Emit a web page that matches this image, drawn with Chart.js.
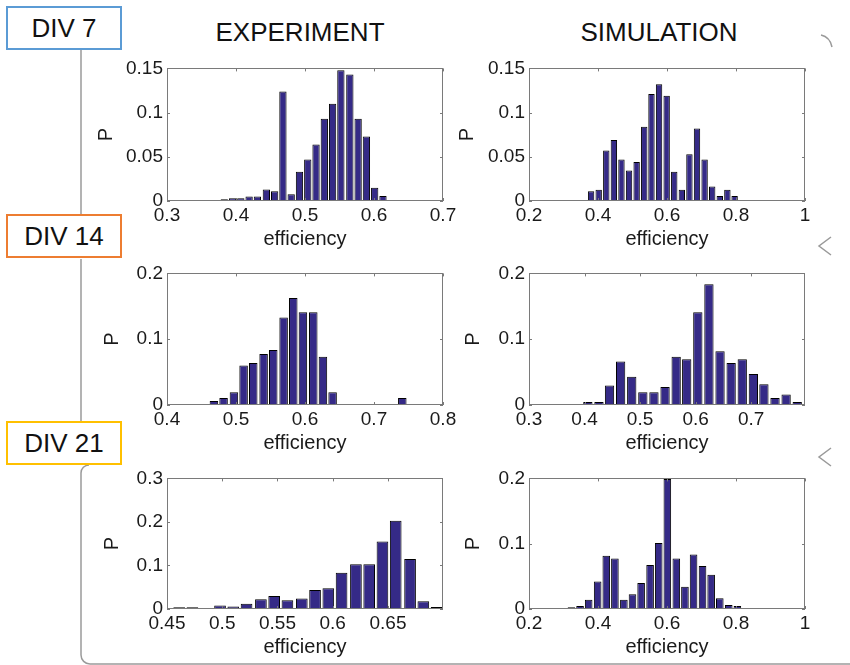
<!DOCTYPE html>
<html>
<head>
<meta charset="utf-8">
<script src="https://cdn.jsdelivr.net/npm/chart.js@4.4.1/dist/chart.umd.min.js"></script>
<style>
body { margin: 0; width: 850px; height: 665px; background: #fff; position: relative; overflow: hidden; font-family: "Liberation Sans", Arial, sans-serif; }
canvas { position: absolute; }
svg { position: absolute; left: 0; top: 0; }
.div-box { position: absolute; left: 6px; width: 112px; height: 40px; border: 2px solid; background: #fff; text-align: center; line-height: 40px; font-size: 26px; color: #111; }
.col-title { position: absolute; top: 17px; line-height: 30px; font-size: 26px; color: #111; transform: translateX(-50%); white-space: nowrap; }
</style>
</head>
<body>
<svg width="850" height="665">
  <g fill="none" stroke="#9a9a9a" stroke-width="1.5">
    <path d="M81 50 L81 214 M81 259 L81 421"/>
    <path d="M89 465 A8 8 0 0 0 81 473 L81 655 A9 9 0 0 0 90 664 L850 664"/>
    <path d="M821 35 Q830 37 832 47"/>
    <path d="M831 237 Q823 243 819 246 Q823 249 831 255"/>
    <path d="M831 448 Q823 454 819 457 Q823 460 831 466"/>
  </g>
</svg>

<div class="div-box" style="top:6px; border-color:#5b9bd5;">DIV 7</div>
<div class="div-box" style="top:214px; border-color:#ed7d31;">DIV 14</div>
<div class="div-box" style="top:421px; border-color:#ffc000;">DIV 21</div>

<div class="col-title" style="left:300px;">EXPERIMENT</div>
<div class="col-title" style="left:659px;">SIMULATION</div>

<canvas id="exp7" width="378" height="200" style="left:87px; top:53px;"></canvas>
<canvas id="sim7" width="378" height="200" style="left:449px; top:53px;"></canvas>
<canvas id="exp14" width="378" height="199" style="left:87px; top:258px;"></canvas>
<canvas id="sim14" width="378" height="199" style="left:449px; top:258px;"></canvas>
<canvas id="exp21" width="378" height="198" style="left:87px; top:463px;"></canvas>
<canvas id="sim21" width="378" height="198" style="left:449px; top:463px;"></canvas>

<script>
// bin centres (efficiency) and probabilities per histogram
// DIV 7
const expBins7 = [0.383, 0.395, 0.407, 0.419, 0.431, 0.444, 0.456, 0.468, 0.480, 0.492, 0.504, 0.516, 0.528, 0.540, 0.552, 0.565, 0.577, 0.589, 0.601, 0.613];
const expP7 = [0.002, 0.003, 0.003, 0.005, 0.005, 0.013, 0.011, 0.124, 0.0075, 0.033, 0.047, 0.064, 0.093, 0.110, 0.148, 0.143, 0.093, 0.073, 0.015, 0.0056];
const simBins7 = [0.380, 0.402, 0.424, 0.446, 0.468, 0.490, 0.512, 0.534, 0.555, 0.577, 0.599, 0.621, 0.643, 0.665, 0.687, 0.709, 0.731, 0.753, 0.775, 0.796];
const simP7 = [0.011, 0.0128, 0.057, 0.069, 0.047, 0.0346, 0.044, 0.084, 0.121, 0.132, 0.119, 0.033, 0.0128, 0.053, 0.082, 0.047, 0.0165, 0.0056, 0.0128, 0.0056];
// DIV 14
const expBins14 = [0.468, 0.482, 0.497, 0.511, 0.525, 0.540, 0.554, 0.569, 0.583, 0.597, 0.612, 0.626, 0.640, 0.655, 0.669, 0.683, 0.698, 0.712, 0.726, 0.741];
const expP14 = [0.006, 0.0105, 0.0195, 0.060, 0.064, 0.0775, 0.0835, 0.133, 0.1625, 0.141, 0.141, 0.0735, 0.0195, 0, 0, 0, 0, 0, 0, 0.0105];
const simBins14 = [0.406, 0.426, 0.445, 0.465, 0.485, 0.505, 0.525, 0.545, 0.565, 0.584, 0.604, 0.624, 0.644, 0.664, 0.684, 0.704, 0.723, 0.743, 0.763, 0.783];
const simP14 = [0.0045, 0.0045, 0.0295, 0.066, 0.043, 0.0195, 0.0195, 0.0275, 0.0735, 0.0695, 0.141, 0.1835, 0.0815, 0.064, 0.0695, 0.047, 0.0315, 0.0105, 0.016, 0.0045];
// DIV 21
const expBins21 = [0.461, 0.473, 0.486, 0.498, 0.510, 0.522, 0.535, 0.547, 0.559, 0.572, 0.584, 0.596, 0.608, 0.621, 0.633, 0.645, 0.657, 0.670, 0.682, 0.694];
const expP21 = [0.004, 0.004, 0, 0.0083, 0.006, 0.012, 0.0226, 0.030, 0.0203, 0.024, 0.0436, 0.0474, 0.0835, 0.103, 0.103, 0.155, 0.203, 0.115, 0.018, 0.0045];
const simBins21 = [0.323, 0.348, 0.373, 0.399, 0.424, 0.449, 0.475, 0.500, 0.525, 0.551, 0.576, 0.601, 0.627, 0.652, 0.677, 0.703, 0.728, 0.753, 0.779, 0.804];
const simP21 = [0.0025, 0.0045, 0.014, 0.042, 0.0815, 0.0775, 0.014, 0.0225, 0.040, 0.0675, 0.101, 0.199, 0.0775, 0.034, 0.0835, 0.066, 0.0525, 0.0165, 0.006, 0.0045];

// axis ticks
const xTicksA = [0.3, 0.4, 0.5, 0.6, 0.7];
const xTicksB = [0.2, 0.4, 0.6, 0.8, 1];
const xTicksC = [0.4, 0.5, 0.6, 0.7, 0.8];
const xTicksD = [0.45, 0.5, 0.55, 0.6, 0.65];
const yTicks15 = [0, 0.05, 0.1, 0.15];
const yTicks2 = [0, 0.1, 0.2];
const yTicks3 = [0, 0.1, 0.2, 0.3];

const FONT = '"Liberation Sans", Arial, sans-serif';
const TEXT = '#1a1a1a';

// box around the plot area with small inward ticks on all four sides
const boxTicks = {
    id: 'boxTicks',
    afterDraw(chart) {
        const ctx = chart.ctx;
        const a = chart.chartArea;
        const x = chart.scales.x, y = chart.scales.y;
        ctx.save();
        ctx.strokeStyle = '#7a7a7a';
        ctx.lineWidth = 1;
        ctx.beginPath();
        for (const t of x.ticks) {
            const px = Math.round(x.getPixelForValue(t.value)) + 0.5;
            ctx.moveTo(px, a.bottom); ctx.lineTo(px, a.bottom - 3);
            ctx.moveTo(px, a.top); ctx.lineTo(px, a.top + 3);
        }
        for (const t of y.ticks) {
            const py = Math.round(y.getPixelForValue(t.value)) + 0.5;
            ctx.moveTo(a.left, py); ctx.lineTo(a.left + 3, py);
            ctx.moveTo(a.right, py); ctx.lineTo(a.right - 3, py);
        }
        ctx.stroke();
        ctx.strokeRect(Math.round(a.left) + 0.5, Math.round(a.top) + 0.5,
            Math.round(a.right - a.left) - 1, Math.round(a.bottom - a.top) - 1);
        ctx.restore();
    }
};

function makeHist(id, bins, probs, xTicks, xMin, xMax, yTicks, yMax, pTitlePad) {
    const points = bins.map((b, i) => ({x: b, y: probs[i]}));
    return new Chart(document.getElementById(id), {
        type: 'bar',
        data: {
            datasets: [{
                data: points,
                backgroundColor: '#352a87',
                borderColor: '#000000',
                borderWidth: 1,
                barPercentage: 0.88,
                categoryPercentage: 1.0
            }]
        },
        options: {
            responsive: false,
            animation: false,
            events: [],
            layout: {padding: {top: 14, right: 22, left: 0, bottom: 0}},
            plugins: {legend: {display: false}, tooltip: {enabled: false}},
            scales: {
                x: {
                    type: 'linear',
                    min: xMin,
                    max: xMax,
                    offset: false,
                    grid: {display: false, drawTicks: false},
                    border: {display: false},
                    afterBuildTicks: s => { s.ticks = xTicks.map(v => ({value: v})); },
                    afterFit: s => { s.height = 52; },
                    ticks: {
                        autoSkip: false, maxRotation: 0, padding: 3, color: TEXT,
                        font: {family: FONT, size: 19},
                        callback: v => String(v)
                    },
                    title: {
                        display: true, text: 'efficiency', color: TEXT,
                        font: {family: FONT, size: 20},
                        padding: {top: 0, bottom: 2}
                    }
                },
                y: {
                    min: 0,
                    max: yMax,
                    grid: {display: false, drawTicks: false},
                    border: {display: false},
                    afterBuildTicks: s => { s.ticks = yTicks.map(v => ({value: v})); },
                    afterFit: s => { s.width = 80; },
                    ticks: {
                        autoSkip: false, padding: 4, color: TEXT,
                        font: {family: FONT, size: 19},
                        callback: v => String(v)
                    },
                    title: {
                        display: true, text: 'P', color: TEXT,
                        font: {family: FONT, size: 20},
                        padding: {top: pTitlePad, bottom: 0}
                    }
                }
            }
        },
        plugins: [boxTicks]
    });
}

makeHist('exp7', expBins7, expP7, xTicksA, 0.3, 0.7, yTicks15, 0.15, 7);
makeHist('sim7', simBins7, simP7, xTicksB, 0.2, 1, yTicks15, 0.15, 6);
makeHist('exp14', expBins14, expP14, xTicksC, 0.4, 0.8, yTicks2, 0.2, 13);
makeHist('sim14', simBins14, simP14, xTicksA, 0.3, 0.797, yTicks2, 0.2, 12);
makeHist('exp21', expBins21, expP21, xTicksD, 0.45, 0.6998, yTicks3, 0.3, 13);
makeHist('sim21', simBins21, simP21, xTicksB, 0.2, 1, yTicks2, 0.2, 12);
</script>
</body>
</html>
